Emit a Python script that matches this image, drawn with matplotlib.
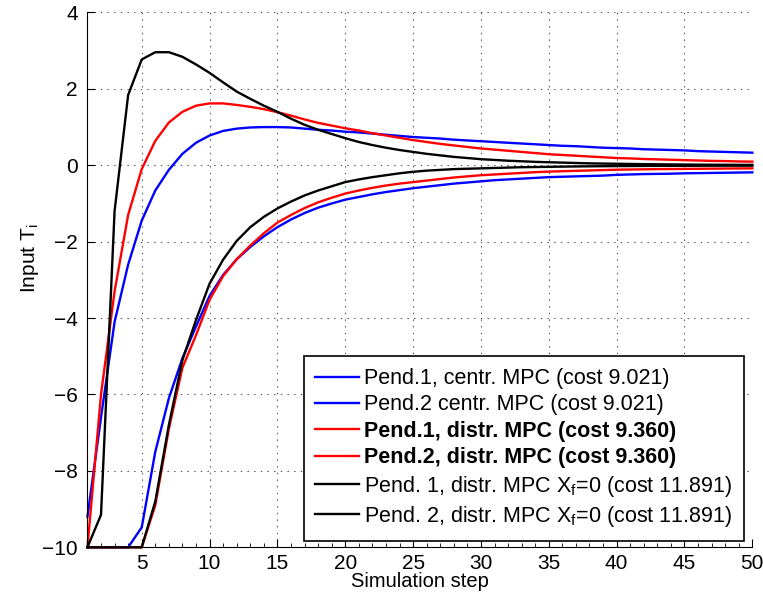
"""Input trajectories of the two pendulums under centralized / distributed MPC."""

import matplotlib
matplotlib.use("Agg")
import matplotlib.pyplot as plt
from matplotlib.ticker import MultipleLocator

steps = list(range(1, 51))

# centralized MPC (blue)
centr_pend1 = [
    -9.2, -6.6, -4.1, -2.6, -1.45, -0.66, -0.12, 0.30, 0.59, 0.78,
    0.90, 0.96, 0.99, 1.00, 1.00, 0.99, 0.96, 0.93, 0.91, 0.88,
    0.86, 0.83, 0.80, 0.77, 0.74, 0.72, 0.70, 0.67, 0.65, 0.63,
    0.61, 0.59, 0.57, 0.55, 0.53, 0.51, 0.50, 0.48, 0.46, 0.45,
    0.44, 0.42, 0.41, 0.40, 0.39, 0.37, 0.36, 0.35, 0.34, 0.33,
]
centr_pend2 = [
    -10, -10, -10, -10, -9.48, -7.5, -6.1, -5.05, -4.22, -3.42,
    -2.87, -2.46, -2.14, -1.86, -1.62, -1.42, -1.25, -1.11, -1.00, -0.90,
    -0.83, -0.76, -0.70, -0.65, -0.60, -0.56, -0.52, -0.48, -0.45, -0.42,
    -0.39, -0.37, -0.35, -0.33, -0.31, -0.30, -0.29, -0.28, -0.27, -0.25,
    -0.24, -0.23, -0.225, -0.22, -0.21, -0.205, -0.20, -0.195, -0.19, -0.185,
]

# distributed MPC (red)
distr_pend1 = [
    -10, -6.0, -3.3, -1.3, -0.1, 0.64, 1.12, 1.40, 1.56, 1.62,
    1.62, 1.58, 1.53, 1.47, 1.39, 1.30, 1.20, 1.11, 1.04, 0.97,
    0.91, 0.84, 0.78, 0.72, 0.66, 0.61, 0.56, 0.52, 0.48, 0.44,
    0.41, 0.38, 0.35, 0.32, 0.29, 0.27, 0.25, 0.23, 0.21, 0.19,
    0.18, 0.165, 0.155, 0.145, 0.135, 0.125, 0.115, 0.11, 0.10, 0.095,
]
distr_pend2 = [
    -10, -10, -10, -10, -10, -8.9, -6.9, -5.3, -4.45, -3.52,
    -2.90, -2.46, -2.10, -1.78, -1.50, -1.30, -1.12, -0.97, -0.85, -0.74,
    -0.66, -0.59, -0.53, -0.48, -0.44, -0.40, -0.36, -0.32, -0.29, -0.26,
    -0.24, -0.22, -0.20, -0.18, -0.165, -0.155, -0.145, -0.135, -0.125, -0.115,
    -0.11, -0.105, -0.10, -0.097, -0.094, -0.091, -0.088, -0.085, -0.082, -0.08,
]

# distributed MPC with terminal set X_f = 0 (black)
xf0_pend1 = [
    -10, -9.15, -1.2, 1.84, 2.77, 2.96, 2.96, 2.84, 2.64, 2.42,
    2.17, 1.93, 1.74, 1.56, 1.40, 1.22, 1.06, 0.93, 0.82, 0.71,
    0.61, 0.53, 0.46, 0.40, 0.35, 0.30, 0.26, 0.22, 0.19, 0.16,
    0.14, 0.12, 0.105, 0.09, 0.08, 0.07, 0.06, 0.05, 0.045, 0.04,
    0.035, 0.03, 0.026, 0.022, 0.02, 0.017, 0.015, 0.013, 0.011, 0.01,
]
xf0_pend2 = [
    -10, -10, -10, -10, -10, -8.8, -6.8, -5.1, -4.05, -3.1,
    -2.47, -1.98, -1.62, -1.35, -1.13, -0.95, -0.79, -0.66, -0.55, -0.44,
    -0.37, -0.31, -0.26, -0.21, -0.17, -0.14, -0.12, -0.10, -0.09, -0.08,
    -0.07, -0.06, -0.05, -0.045, -0.04, -0.035, -0.03, -0.027, -0.024, -0.021,
    -0.019, -0.017, -0.015, -0.014, -0.013, -0.012, -0.011, -0.01, -0.01, -0.01,
]

labels = [
    "Pend.1, centr. MPC (cost 9.021)",
    "Pend.2 centr. MPC (cost 9.021)",
    "Pend.1, distr. MPC (cost 9.360)",
    "Pend.2, distr. MPC (cost 9.360)",
    r"Pend. 1, distr. MPC X$\mathregular{_f}$=0 (cost 11.891)",
    r"Pend. 2, distr. MPC X$\mathregular{_f}$=0 (cost 11.891)",
]
bold_labels = [2, 3]


def _plot(out_path="out.png"):
    plt.rcParams["font.family"] = ["Liberation Sans", "DejaVu Sans"]

    fig = plt.figure(figsize=(7.63, 5.95), dpi=100)
    ax = fig.add_axes([0.1146, 0.0802, 0.8714, 0.8988])

    series = [
        (centr_pend1, "#0000ff"), (centr_pend2, "#0000ff"),
        (distr_pend1, "#ff0000"), (distr_pend2, "#ff0000"),
        (xf0_pend1, "#000000"), (xf0_pend2, "#000000"),
    ]
    for (vals, col), lab in zip(series, labels):
        ax.plot(steps, vals, color=col, lw=1.7, label=lab, clip_on=False)

    ax.set_xlim(1, 50)
    ax.set_ylim(-10, 4)
    ax.set_xticks(range(5, 51, 5))
    ax.set_yticks(range(-10, 5, 2))
    ax.xaxis.set_minor_locator(MultipleLocator(1))
    ax.tick_params(direction="in", length=6, width=0.8, labelsize=15, pad=7)
    ax.tick_params(axis="x", pad=5)
    ax.tick_params(which="minor", direction="in", length=3, width=0.6)
    for side in ("top", "right"):
        ax.spines[side].set_visible(False)
    ax.grid(True, which="major", color="0.3", linestyle=(0, (1.3, 5.1)), linewidth=0.75)

    ax.set_xlabel("Simulation step", fontsize=14.5, labelpad=-1)
    ax.set_ylabel(r"Input T$\mathregular{_i}$", fontsize=15)
    ax.yaxis.set_label_coords(-0.07, 0.54)

    leg = ax.legend(loc="lower right", bbox_to_anchor=(0.9875, 0.012), borderaxespad=0,
                    fontsize=15.5, fancybox=False, framealpha=1, edgecolor="black",
                    handlelength=2.0, handletextpad=0.25, labelspacing=0.25, borderpad=0.55)
    leg.get_frame().set_linewidth(1.2)
    for i in bold_labels:
        leg.get_texts()[i].set_fontweight("bold")

    fig.savefig(out_path, dpi=100)
    plt.close(fig)


def main():
    _plot()


if __name__ == "__main__":
    main()
